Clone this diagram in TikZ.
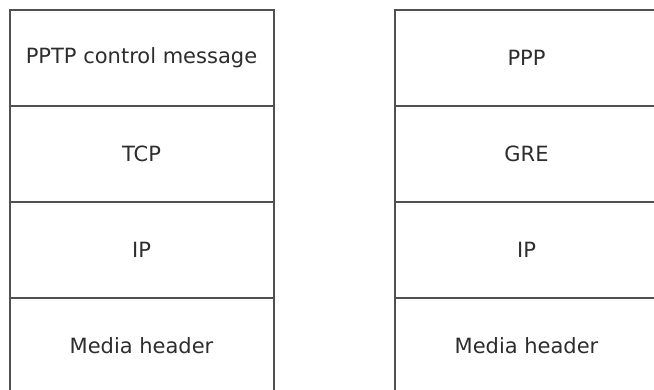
\documentclass[tikz,border=0pt]{standalone}
\usepackage{fontspec}
\setmainfont{DejaVu Sans}
\usetikzlibrary{positioning}
\definecolor{layerline}{RGB}{80,80,80}
\definecolor{layertext}{RGB}{45,45,45}

\begin{document}
\begin{tikzpicture}[x=1pt,y=-1pt,node distance=0pt,
    layer/.style={rectangle,draw=layerline,line width=2pt,minimum width=264pt,minimum height=96pt,
        inner sep=0pt,outer sep=0pt,text=layertext,font=\fontsize{21}{24}\selectfont}]

                \useasboundingbox (0,0) rectangle (654,389);
                \clip (0,0) rectangle (654,389);

                % control connection
                \node[layer] (1) at (141.5,58) {PPTP control message};
                \node[layer] (2) [below=of 1] {TCP};
                \node[layer] (3) [below=of 2] {IP};
                \node[layer] (4) [below=of 3] {Media header};

                % tunneled data
                \node[layer] (5) at (526.5,58) {PPP};
                \node[layer] (6) [below=of 5] {GRE};
                \node[layer] (7) [below=of 6] {IP};
                \node[layer] (8) [below=of 7] {Media header};

            \end{tikzpicture}
\end{document}
